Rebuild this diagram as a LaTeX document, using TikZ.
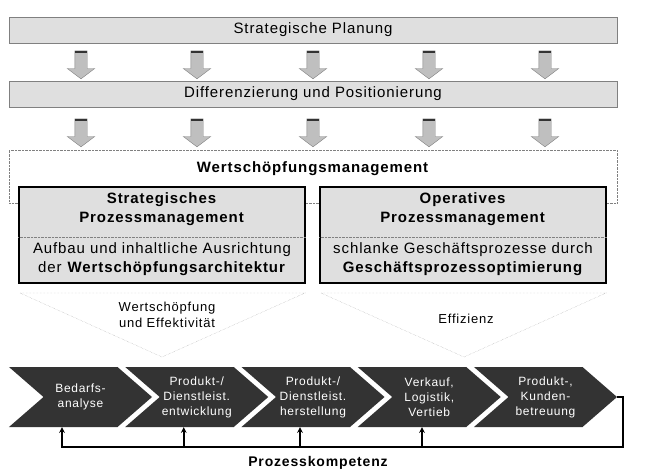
\documentclass[tikz,border=0pt]{standalone}
\usepackage{fontspec}
\setmainfont{Liberation Sans}[LetterSpace=6]
\usetikzlibrary{arrows, positioning, shapes}
\newcommand{\barwidth}{608pt}
\newcommand{\boxwidth}{286pt}
\tikzstyle{bar} = [% gray bar across the full width
  rectangle,
  minimum width=\barwidth,
  minimum height=26pt,
  draw=gray,
  fill=gray!25,
  font=\fontsize{15}{18}\selectfont
  ]
\tikzstyle{blockarrow} = [% small block arrow between the bars
  single arrow,
  shape border rotate=270,
  single arrow head extend=7.5pt,
  single arrow tip angle=106,
  minimum height=28pt,
  minimum width=27pt,
  inner sep=6pt,
  draw=gray,
  fill=gray!50
  ]
\tikzstyle{dotframe} = [% dotted outer frame
  rectangle,
  minimum width=\barwidth,
  minimum height=53pt,
  draw=gray,
  densely dotted
  ]
\tikzstyle{frame} = [% management box
  rectangle,
  minimum width=\boxwidth,
  minimum height=96pt,
  draw=black,
  line width=1.6pt,
  fill=gray!25
  ]
\tikzstyle{boxtext} = [% text inside the boxes
  align=center,
  font=\fontsize{15}{19}\selectfont
  ]
\tikzstyle{chevron} = [% process step
  signal,
  signal from=west,
  signal to=east,
  signal pointer angle=82,
  minimum height=60pt,
  text width=74pt,
  inner sep=0pt,
  align=center,
  fill=black!80,
  text=white,
  font=\fontsize{12}{15}\selectfont
  ]
\tikzstyle{arrow} = [% arrow format
  line width=1.5pt,
  ->,
  >=stealth
  ]

\begin{document}
\begin{tikzpicture}[x=1pt, y=-1pt]
\useasboundingbox (0,0) rectangle (646,475);

%%% Bars
\node[bar] (planung) at (313,30) {Strategische Planung};
\node[bar] (differenzierung) at (313,94) {Differenzierung und Positionierung};

\foreach \x [count=\i] in {81,197,313,429,545} {
  \node[blockarrow] (pfeilA\i) at (\x,62.5) {};
  \node[blockarrow] (pfeilB\i) at (\x,130.5) {};
  \fill[gray!40!black] ([xshift=-6pt]pfeilA\i.tail) rectangle ([xshift=6pt,yshift=-2.5pt]pfeilA\i.tail);
  \fill[gray!40!black] ([xshift=-6pt]pfeilB\i.tail) rectangle ([xshift=6pt,yshift=-2.5pt]pfeilB\i.tail);
}

%%% Management
\node[dotframe] (rahmen) at (313,176.5) {};
\node[boxtext] (wsm) at (313,169) {\textbf{Wertschöpfungsmanagement}};
\node[frame] (strat) at (162,235) {};
\node[frame] (oper) at (463,235) {};
\draw[gray, densely dotted] ([yshift=-2pt]strat.west) -- ([yshift=-2pt]strat.east);
\draw[gray, densely dotted] ([yshift=-2pt]oper.west) -- ([yshift=-2pt]oper.east);
\node[boxtext] (strattitel) at (162,209.5) {\textbf{Strategisches}\\\textbf{Prozessmanagement}};
\node[boxtext] (stratinhalt) at (162,259) {Aufbau und inhaltliche Ausrichtung\\der \textbf{Wertschöpfungsarchitektur}};
\node[boxtext] (opertitel) at (463,209.5) {\textbf{Operatives}\\\textbf{Prozessmanagement}};
\node[boxtext] (operinhalt) at (463,259) {schlanke Geschäftsprozesse durch\\\textbf{Geschäftsprozessoptimierung}};

%%% Triangles
\draw[gray!70, densely dotted] (20,293) -- (162,357) -- (305,293) -- cycle;
\draw[gray!70, densely dotted] (321,293) -- (464,357) -- (606,293) -- cycle;
\node[align=center, font=\fontsize{13}{16}\selectfont] (effektiv) at (167,315) {Wertschöpfung\\und Effektivität};
\node[font=\fontsize{13}{16}\selectfont] (effizienz) at (466,319) {Effizienz};

%%% Process chain
\node[chevron] (bedarf) at (80.5,397) {Bedarfs-\\analyse};
\node[chevron] (entwicklung) at (196.75,397) {Produkt-/\\Dienstleist.\\entwicklung};
\node[chevron] (herstellung) at (313,397) {Produkt-/\\Dienstleist.\\herstellung};
\node[chevron] (vertrieb) at (429.25,397) {Verkauf,\\Logistik,\\Vertieb};
\node[chevron] (betreuung) at (545.5,397) {Produkt-,\\Kunden-\\betreuung};

\coordinate (ruecklauf) at (623,447);
\node[font=\fontsize{14}{17}\selectfont\bfseries] (kompetenz) at (318,463) {Prozesskompetenz};

%%%
\draw[arrow] (betreuung.east) -| (ruecklauf) -| ([xshift=-18.5pt]bedarf.south);
\draw[arrow] ([xshift=-13pt,yshift=-20pt]entwicklung.south) -- ([xshift=-13pt]entwicklung.south);
\draw[arrow] ([xshift=-13pt,yshift=-20pt]herstellung.south) -- ([xshift=-13pt]herstellung.south);
\draw[arrow] ([xshift=-7.25pt,yshift=-20pt]vertrieb.south) -- ([xshift=-7.25pt]vertrieb.south);

\end{tikzpicture}
\end{document}
